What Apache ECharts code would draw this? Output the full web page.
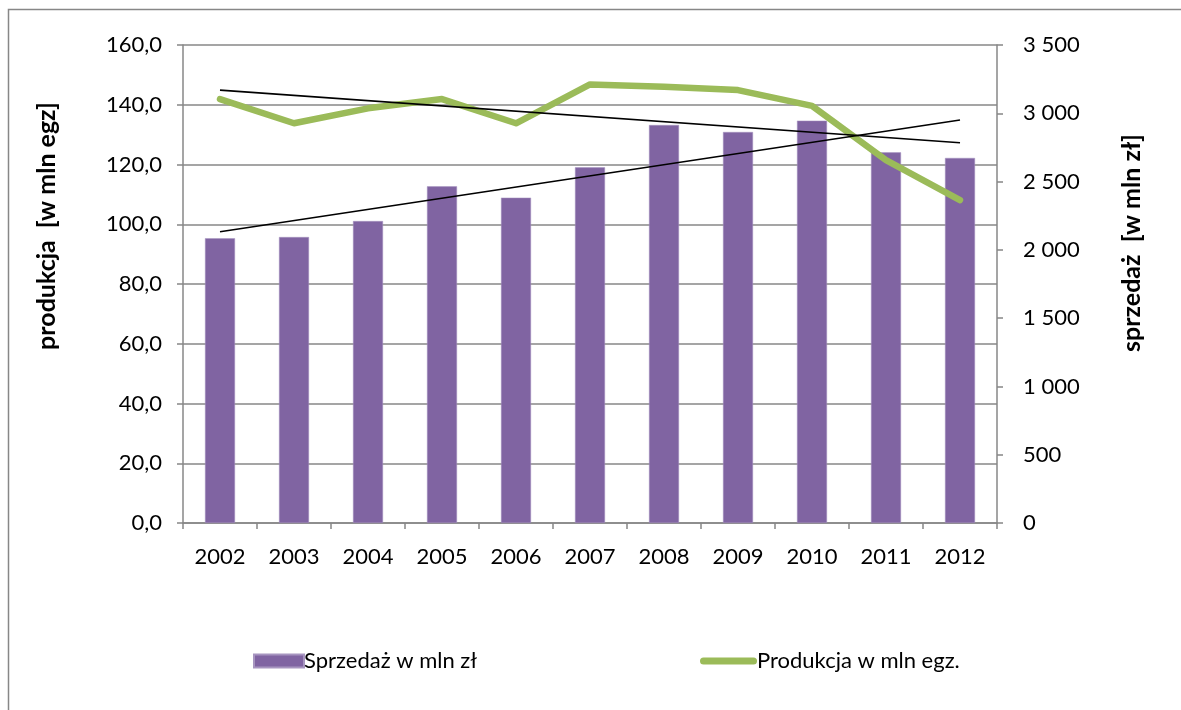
<!DOCTYPE html>
<html>
<head>
<meta charset="utf-8">
<script src="https://cdn.jsdelivr.net/npm/echarts@6/dist/echarts.min.js"></script>
<style>
  html, body { margin: 0; padding: 0; background: #fff; }
  #main { width: 1181px; height: 710px; }
</style>
</head>
<body>
<div id="main"></div>
<script>
// lata
var years = ['2002', '2003', '2004', '2005', '2006', '2007', '2008', '2009', '2010', '2011', '2012'];
// sprzedaż w mln zł (prawa oś)
var sprzedaz = [2085, 2094, 2211, 2465, 2382, 2604, 2914, 2863, 2946, 2714, 2673];
// produkcja w mln egz. (lewa oś)
var produkcja = [141.9, 133.8, 138.8, 141.9, 133.8, 146.8, 146.0, 144.9, 139.6, 121.5, 108.1];
// linie trendu - odczytane końce (2002, 2012)
var trendSprzedaz = [2133, null, null, null, null, null, null, null, null, null, 2951];
var trendProdukcja = [144.9, null, null, null, null, null, null, null, null, null, 127.3];

var FONT = 'Lato';
var gray = '#878787';

var myChart = echarts.init(document.getElementById('main'));

var option = {
  backgroundColor: '#fff',
  textStyle: { fontFamily: FONT, color: '#000' },
  animation: false,
  grid: { left: 183, right: 184, top: 45, bottom: 187 },
  graphic: [
    { // ramka wykresu
      type: 'rect',
      shape: { x: 8.5, y: 9.5, width: 1200, height: 760 },
      style: { fill: 'none', stroke: gray, lineWidth: 1.5 },
      silent: true
    },
    {
      type: 'text',
      x: 47, y: 226, rotation: Math.PI / 2,
      style: { text: 'produkcja  [w mln egz]', font: 'bold 25px ' + FONT, fill: '#000', align: 'center', verticalAlign: 'middle' }
    },
    {
      type: 'text',
      x: 1132, y: 243, rotation: Math.PI / 2,
      style: { text: 'sprzedaż  [w mln zł]', font: 'bold 25px ' + FONT, fill: '#000', align: 'center', verticalAlign: 'middle' }
    }
  ],
  legend: [
    {
      data: ['Sprzedaż w mln zł'],
      left: 248, top: 645,
      itemWidth: 50, itemHeight: 13, itemGap: 0,
      icon: 'rect',
      textStyle: { fontFamily: FONT, fontSize: 22, color: '#000', padding: [0, 0, 0, -5] }
    },
    {
      data: ['Produkcja w mln egz.'],
      left: 695, top: 645,
      itemWidth: 57, itemHeight: 7, itemGap: 0,
      icon: 'path://M3.5,0 H53.5 A3.5,3.5 0 0 1 53.5,7 H3.5 A3.5,3.5 0 0 1 3.5,0 Z',
      textStyle: { fontFamily: FONT, fontSize: 22, color: '#000', padding: [0, 0, 0, -5] }
    }
  ],
  xAxis: {
    type: 'category',
    data: years,
    axisLine: { lineStyle: { color: gray, width: 1.5 } },
    axisTick: { show: true, alignWithLabel: false, length: 6, lineStyle: { color: gray, width: 1.5 } },
    axisLabel: { fontFamily: FONT, fontSize: 22, color: '#000', margin: 23 }
  },
  yAxis: [
    {
      type: 'value',
      min: 0, max: 160, interval: 20,
      axisLine: { show: true, lineStyle: { color: gray, width: 1.5 } },
      axisTick: { show: true, length: 6, lineStyle: { color: gray, width: 1.5 } },
      splitLine: { show: true, lineStyle: { color: gray, width: 1.5 } },
      axisLabel: {
        fontFamily: FONT, fontSize: 22, color: '#000', margin: 21,
        formatter: function (v) { return v.toFixed(1).replace('.', ','); }
      }
    },
    {
      type: 'value',
      min: 0, max: 3500, interval: 500,
      position: 'right',
      axisLine: { show: true, lineStyle: { color: gray, width: 1.5 } },
      axisTick: { show: true, length: 6, lineStyle: { color: gray, width: 1.5 } },
      splitLine: { show: false },
      axisLabel: {
        fontFamily: FONT, fontSize: 22, color: '#000', margin: 26,
        formatter: function (v) { return String(v).replace(/\B(?=(\d{3})+(?!\d))/g, ' '); }
      }
    }
  ],
  series: [
    {
      name: 'Sprzedaż w mln zł',
      type: 'bar',
      yAxisIndex: 1,
      data: sprzedaz,
      barWidth: 30,
      itemStyle: { color: '#8064A2', borderColor: '#a795c0', borderWidth: 0.5 }
    },
    {
      name: 'Produkcja w mln egz.',
      type: 'line',
      yAxisIndex: 0,
      data: produkcja,
      symbol: 'none',
      lineStyle: { color: '#9BBB59', width: 6.5, cap: 'round', join: 'round' },
      itemStyle: { color: '#9BBB59' },
      z: 3
    },
    {
      name: 'trend sprzedaży',
      type: 'line',
      yAxisIndex: 1,
      data: trendSprzedaz,
      connectNulls: true,
      symbol: 'none',
      lineStyle: { color: '#000', width: 1.6 },
      z: 4
    },
    {
      name: 'trend produkcji',
      type: 'line',
      yAxisIndex: 0,
      data: trendProdukcja,
      connectNulls: true,
      symbol: 'none',
      lineStyle: { color: '#000', width: 1.6 },
      z: 4
    }
  ]
};

myChart.setOption(option);
</script>
</body>
</html>
